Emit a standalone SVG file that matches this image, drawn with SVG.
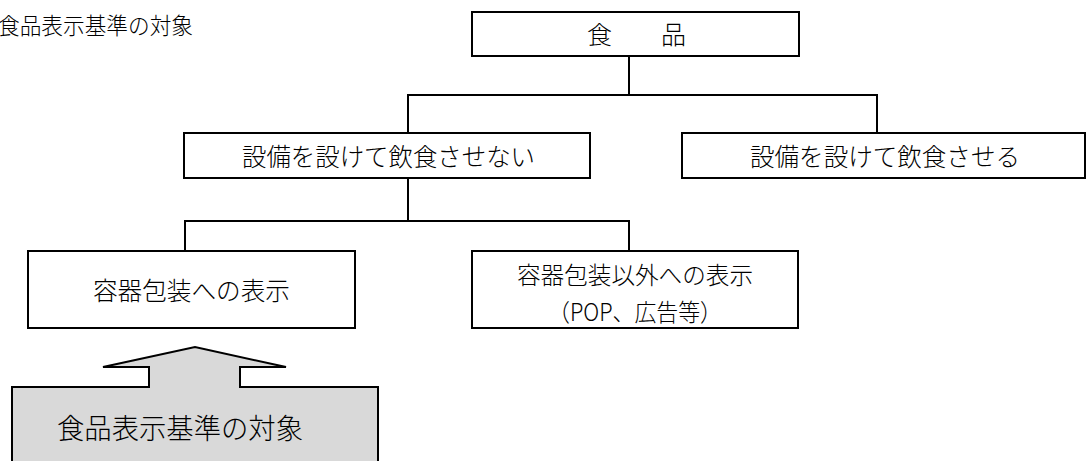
<svg xmlns="http://www.w3.org/2000/svg" width="1087" height="461" viewBox="0 0 1087 461">
<style>
.box{fill:#fff;stroke:#000;stroke-width:2}
.ln{fill:none;stroke:#000;stroke-width:2}
text{font-family:"Noto Sans CJK JP","Noto Sans CJK SC",sans-serif;fill:#000;font-weight:300}
</style>
<rect width="1087" height="461" fill="#fff"/>
<text x="-2" y="34" font-size="23" textLength="195" lengthAdjust="spacingAndGlyphs">食品表示基準の対象</text>
<g id="connectors">
<polyline class="ln" points="629,56 629,95"/>
<polyline class="ln" points="408,133 408,95 877,95 877,133"/>
<polyline class="ln" points="408,178 408,221"/>
<polyline class="ln" points="185,251 185,221 629,221 629,251"/>
</g>
<g id="n-food">
<rect class="box" x="472" y="12" width="327" height="44"/>
<text x="587" y="44" font-size="25" textLength="99" lengthAdjust="spacing">食　　品</text>
</g>
<g id="n-no-seat">
<rect class="box" x="184" y="133" width="406" height="45"/>
<text x="242" y="166" font-size="25" textLength="293" lengthAdjust="spacingAndGlyphs">設備を設けて飲食させない</text>
</g>
<g id="n-seat">
<rect class="box" x="682" y="133" width="403" height="45"/>
<text x="750" y="166" font-size="25" textLength="270" lengthAdjust="spacingAndGlyphs">設備を設けて飲食させる</text>
</g>
<g id="n-container">
<rect class="box" x="28" y="251" width="327" height="77"/>
<text x="93" y="300" font-size="25" textLength="197" lengthAdjust="spacingAndGlyphs">容器包装への表示</text>
</g>
<g id="n-other">
<rect class="box" x="472" y="251" width="326" height="77"/>
<text x="517" y="284" font-size="24" textLength="236" lengthAdjust="spacingAndGlyphs">容器包装以外への表示</text>
<text x="548" y="321" font-size="24" textLength="174" lengthAdjust="spacingAndGlyphs">（POP、広告等）</text>
</g>
<g id="n-target">
<polygon points="12,387 149,387 149,367 103,367 195,347 286,367 240,367 240,387 378,387 378,470 12,470" fill="#d9d9d9" stroke="#000" stroke-width="2"/>
<text x="57" y="439" font-size="28" textLength="246" lengthAdjust="spacingAndGlyphs">食品表示基準の対象</text>
</g>
</svg>
